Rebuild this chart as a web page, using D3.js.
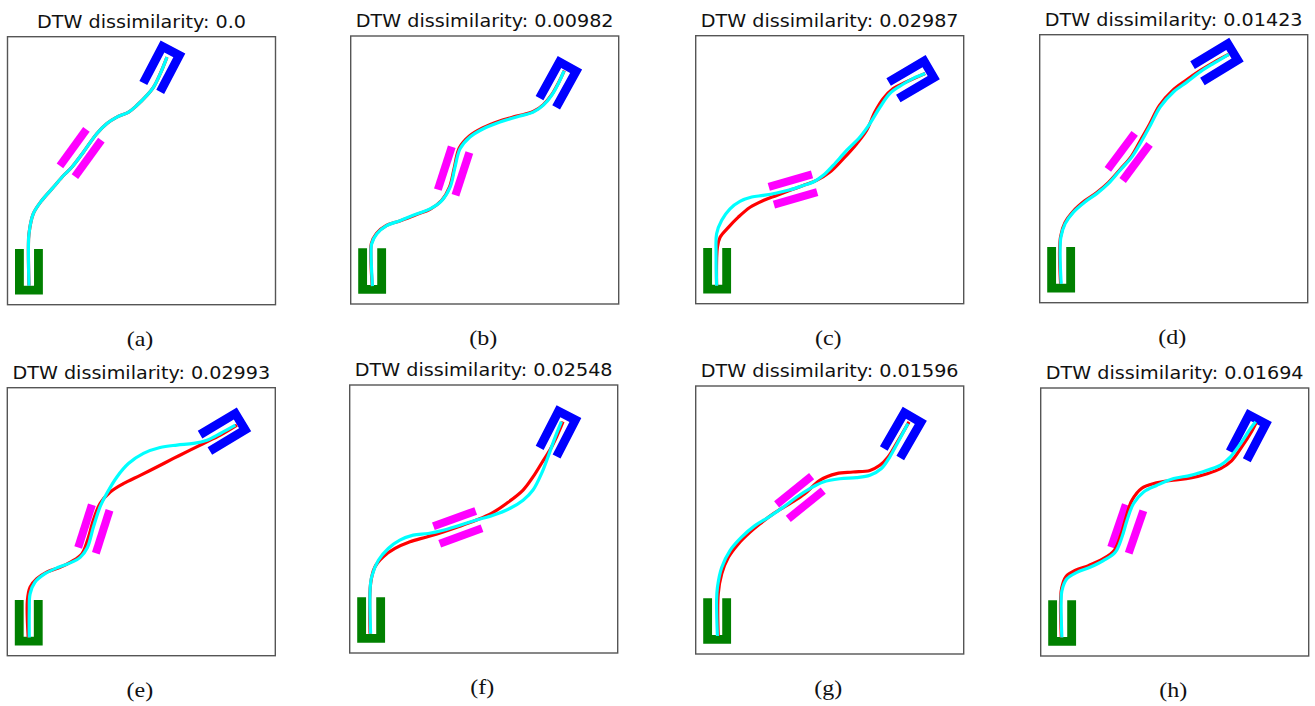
<!DOCTYPE html>
<html>
<head>
<meta charset="utf-8">
<script src="https://cdn.jsdelivr.net/npm/d3@7"></script>
<style>
body { margin: 0; background: #fff; }
</style>
</head>
<body>
<svg id="fig" width="1315" height="706"></svg>
<script>
// ---- data (unit square, y up) ----
var panelLabels = ["(a)", "(b)", "(c)", "(d)", "(e)", "(f)", "(g)", "(h)"];
var dtwScores = ["0.0", "0.00982", "0.02987", "0.01423", "0.02993", "0.02548", "0.01596", "0.01694"];

var startPose = [0.080, 0.071, 90];

var goalX = [0.602, 0.802, 0.856, 0.706, 0.855, 0.803, 0.801, 0.801];
var goalY = [0.932, 0.871, 0.866, 0.927, 0.865, 0.871, 0.868, 0.868];
var goalAngle = [-117.7, -119, -149.5, -148.8, -149, -117.2, -120, -117.6];

var gateX = [0.273, 0.384, 0.363, 0.332, 0.323, 0.403, 0.389, 0.323];
var gateY = [0.566, 0.496, 0.426, 0.544, 0.473, 0.469, 0.584, 0.474];
var gateAngle = [54, 72, 16.2, 53.4, 72.3, 20, 39, 71];

// red = demonstration, cyan = generated
var demoPaths = [
  [[0.080,0.071],[0.078,0.214],[0.080,0.264],[0.096,0.339],[0.128,0.389],[0.171,0.438],[0.209,0.482],[0.240,0.513],[0.283,0.569],[0.333,0.638],[0.371,0.676],[0.408,0.700],[0.452,0.719],[0.483,0.744],[0.520,0.781],[0.545,0.812],[0.570,0.862],[0.595,0.924]],
  [[0.080,0.067],[0.075,0.186],[0.077,0.225],[0.096,0.263],[0.133,0.293],[0.183,0.310],[0.246,0.334],[0.296,0.353],[0.339,0.386],[0.369,0.437],[0.387,0.511],[0.405,0.582],[0.443,0.627],[0.494,0.658],[0.556,0.683],[0.619,0.701],[0.681,0.718],[0.719,0.744],[0.750,0.781],[0.775,0.825],[0.797,0.871]],
  [[0.078,0.067],[0.081,0.211],[0.091,0.248],[0.122,0.285],[0.159,0.323],[0.203,0.360],[0.252,0.385],[0.302,0.404],[0.352,0.423],[0.401,0.441],[0.451,0.460],[0.501,0.491],[0.551,0.541],[0.601,0.597],[0.638,0.647],[0.669,0.716],[0.700,0.766],[0.737,0.803],[0.787,0.828],[0.856,0.859]],
  [[0.078,0.070],[0.074,0.188],[0.078,0.247],[0.094,0.298],[0.125,0.341],[0.168,0.380],[0.213,0.411],[0.256,0.448],[0.299,0.496],[0.342,0.546],[0.378,0.609],[0.410,0.666],[0.447,0.736],[0.496,0.792],[0.546,0.830],[0.598,0.866],[0.648,0.896],[0.706,0.927]],
  [[0.078,0.068],[0.075,0.206],[0.085,0.256],[0.110,0.287],[0.147,0.312],[0.197,0.330],[0.241,0.352],[0.278,0.380],[0.299,0.430],[0.321,0.505],[0.346,0.568],[0.384,0.611],[0.433,0.642],[0.496,0.673],[0.558,0.704],[0.620,0.736],[0.682,0.767],[0.732,0.792],[0.795,0.823],[0.857,0.860]],
  [[0.076,0.072],[0.078,0.259],[0.094,0.321],[0.125,0.359],[0.169,0.390],[0.225,0.415],[0.287,0.433],[0.349,0.452],[0.411,0.473],[0.473,0.496],[0.529,0.521],[0.585,0.558],[0.647,0.608],[0.684,0.657],[0.716,0.708],[0.747,0.757],[0.772,0.807],[0.796,0.863]],
  [[0.084,0.067],[0.084,0.224],[0.097,0.299],[0.122,0.361],[0.159,0.411],[0.202,0.454],[0.240,0.486],[0.289,0.523],[0.351,0.561],[0.407,0.598],[0.463,0.648],[0.526,0.673],[0.587,0.679],[0.650,0.685],[0.687,0.704],[0.718,0.735],[0.749,0.785],[0.796,0.866]],
  [[0.077,0.069],[0.074,0.200],[0.078,0.252],[0.094,0.296],[0.130,0.320],[0.180,0.338],[0.232,0.362],[0.275,0.395],[0.299,0.452],[0.318,0.516],[0.340,0.580],[0.376,0.625],[0.428,0.645],[0.494,0.656],[0.559,0.664],[0.621,0.680],[0.671,0.699],[0.712,0.728],[0.750,0.780],[0.788,0.840],[0.804,0.870]]
];

var genPaths = [
  [[0.080,0.071],[0.078,0.214],[0.080,0.264],[0.096,0.339],[0.128,0.389],[0.171,0.438],[0.209,0.482],[0.240,0.513],[0.283,0.569],[0.333,0.638],[0.371,0.676],[0.408,0.700],[0.452,0.719],[0.483,0.744],[0.520,0.781],[0.545,0.812],[0.570,0.862],[0.595,0.924]],
  [[0.081,0.067],[0.076,0.186],[0.078,0.224],[0.097,0.261],[0.134,0.292],[0.184,0.311],[0.246,0.336],[0.296,0.355],[0.340,0.386],[0.371,0.436],[0.389,0.510],[0.408,0.579],[0.445,0.623],[0.495,0.654],[0.557,0.679],[0.619,0.698],[0.681,0.716],[0.719,0.742],[0.750,0.779],[0.775,0.823],[0.796,0.870]],
  [[0.078,0.067],[0.076,0.187],[0.078,0.261],[0.097,0.311],[0.128,0.354],[0.165,0.382],[0.209,0.398],[0.252,0.404],[0.302,0.413],[0.352,0.425],[0.401,0.441],[0.439,0.454],[0.476,0.479],[0.513,0.516],[0.563,0.572],[0.613,0.622],[0.650,0.672],[0.688,0.734],[0.725,0.785],[0.769,0.816],[0.812,0.841],[0.856,0.859]],
  [[0.080,0.070],[0.076,0.182],[0.079,0.244],[0.095,0.295],[0.126,0.338],[0.169,0.376],[0.213,0.407],[0.257,0.445],[0.300,0.494],[0.344,0.544],[0.382,0.606],[0.413,0.662],[0.450,0.731],[0.500,0.787],[0.550,0.824],[0.600,0.862],[0.649,0.893],[0.706,0.927]],
  [[0.082,0.068],[0.082,0.168],[0.085,0.231],[0.103,0.274],[0.141,0.306],[0.191,0.330],[0.241,0.349],[0.272,0.367],[0.299,0.404],[0.321,0.479],[0.346,0.555],[0.371,0.605],[0.409,0.667],[0.452,0.717],[0.508,0.755],[0.570,0.777],[0.633,0.786],[0.695,0.792],[0.745,0.804],[0.795,0.829],[0.851,0.860]],
  [[0.078,0.072],[0.076,0.234],[0.082,0.284],[0.107,0.346],[0.144,0.390],[0.187,0.421],[0.237,0.440],[0.293,0.446],[0.349,0.458],[0.411,0.477],[0.473,0.496],[0.535,0.514],[0.597,0.539],[0.647,0.570],[0.684,0.608],[0.716,0.670],[0.740,0.732],[0.765,0.801],[0.790,0.863]],
  [[0.081,0.067],[0.078,0.199],[0.081,0.248],[0.097,0.323],[0.128,0.386],[0.171,0.436],[0.221,0.479],[0.271,0.510],[0.327,0.548],[0.376,0.585],[0.426,0.617],[0.476,0.642],[0.538,0.654],[0.600,0.658],[0.650,0.667],[0.693,0.692],[0.724,0.735],[0.755,0.791],[0.792,0.860]],
  [[0.079,0.069],[0.076,0.194],[0.079,0.243],[0.097,0.287],[0.135,0.312],[0.184,0.331],[0.234,0.356],[0.278,0.387],[0.303,0.443],[0.322,0.506],[0.346,0.568],[0.384,0.612],[0.434,0.637],[0.496,0.662],[0.559,0.674],[0.621,0.693],[0.671,0.712],[0.708,0.743],[0.746,0.793],[0.783,0.849],[0.802,0.874]]
];

// ---- layout / style ----
var gPanelX = [7.5, 350.7, 695.7, 1039.7, 7.3, 349.7, 695.7, 1040.7];
var gPanelY = [36.7, 36, 35.7, 34.7, 387.7, 385, 386, 388];
var gBox = 268;
var gColors = {START:"#008000", GOAL:"#0000ff", GATE:"#ff00ff", DEMO:"#ff0000", GEN:"#00ffff", FRAME:"#555"};
// holder (U) and gate sizes in unit-square coords
var uW = 0.104, uH = 0.17, uT = 0.033;
var barL = 0.168, barT = 0.03, barSep = 0.069;

var svg = d3.select("#fig");

function uShape(px, py, deg) {
    var r = deg * Math.PI / 180;
    var ux = Math.cos(r), uy = Math.sin(r), vx = -uy, vy = ux;
    var local = [[-uT,-uW/2],[uH-uT,-uW/2],[uH-uT,-uW/2+uT],[0,-uW/2+uT],
                 [0,uW/2-uT],[uH-uT,uW/2-uT],[uH-uT,uW/2],[-uT,uW/2]];
    return local.map(function(p) {
        return [px + p[0]*ux + p[1]*vx, py + p[0]*uy + p[1]*vy];
    });
}//uShape

function bar(cx, cy, deg, off) {
    var r = deg * Math.PI / 180;
    var dx = Math.cos(r), dy = Math.sin(r), nx = -dy, ny = dx;
    var ox = cx + off*nx, oy = cy + off*ny;
    var local = [[-barL/2,-barT/2],[barL/2,-barT/2],[barL/2,barT/2],[-barL/2,barT/2]];
    return local.map(function(p) {
        return [ox + p[0]*dx + p[1]*nx, oy + p[0]*dy + p[1]*ny];
    });
}//bar

dtwScores.forEach(function(score, i) {
    var x = d3.scaleLinear().domain([0, 1]).range([0, gBox]);
    var y = d3.scaleLinear().domain([0, 1]).range([gBox, 0]);
    var poly = d3.line().x(function(d) {return x(d[0]);}).y(function(d) {return y(d[1]);});
    var curve = d3.line().x(function(d) {return x(d[0]);}).y(function(d) {return y(d[1]);})
                  .curve(d3.curveCatmullRom);

    var g = svg.append("g").attr("transform", "translate(" + gPanelX[i] + "," + gPanelY[i] + ")");

    g.append("rect")
        .attr("x", 0).attr("y", 0)
        .attr("width", gBox).attr("height", gBox)
        .attr("fill", "white")
        .attr("stroke", gColors.FRAME)
        .attr("stroke-width", 1.4);

    [-barSep/2, barSep/2].forEach(function(off) {
        g.append("path")
            .attr("d", poly(bar(gateX[i], gateY[i], gateAngle[i], off)) + "Z")
            .attr("fill", gColors.GATE);
    });

    g.append("path")
        .attr("d", poly(uShape(startPose[0], startPose[1], startPose[2])) + "Z")
        .attr("fill", gColors.START);
    g.append("path")
        .attr("d", poly(uShape(goalX[i], goalY[i], goalAngle[i])) + "Z")
        .attr("fill", gColors.GOAL);

    g.append("path")
        .attr("d", curve(demoPaths[i]))
        .attr("fill", "none")
        .attr("stroke", gColors.DEMO)
        .attr("stroke-width", 3.2)
        .attr("stroke-linejoin", "round");
    g.append("path")
        .attr("d", curve(genPaths[i]))
        .attr("fill", "none")
        .attr("stroke", gColors.GEN)
        .attr("stroke-width", 3.2)
        .attr("stroke-linejoin", "round");

    // titles and captions are a bit stretched sideways in the original
    g.append("g")
        .attr("transform", "translate(" + (gBox/2) + ",-9) scale(1.065,1)")
        .append("text")
        .attr("text-anchor", "middle")
        .attr("font-family", "DejaVu Sans")
        .attr("font-size", "18px")
        .attr("fill", "#111")
        .text("DTW dissimilarity: " + score);

    g.append("g")
        .attr("transform", "translate(" + (gBox/2 - 1.5) + "," + (346 - 36.7) + ") scale(1.2,1)")
        .append("text")
        .attr("text-anchor", "middle")
        .attr("font-family", "Liberation Serif")
        .attr("font-size", "20px")
        .attr("fill", "#111")
        .text(panelLabels[i]);
});
</script>
</body>
</html>
